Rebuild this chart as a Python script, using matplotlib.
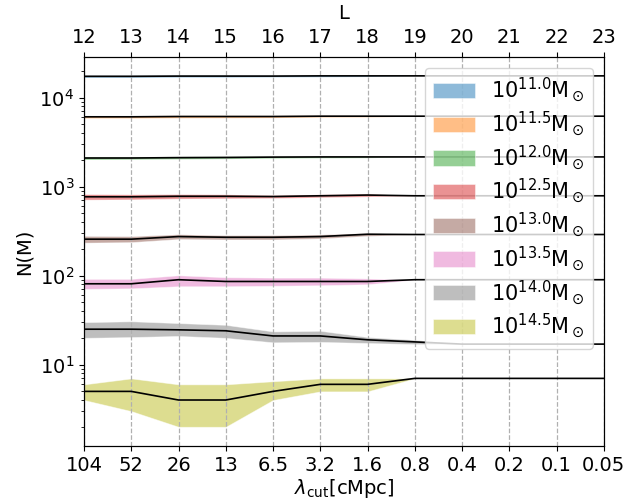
import matplotlib
matplotlib.use("Agg")
import matplotlib.pyplot as plt
import numpy as np

L = [12, 13, 14, 15, 16, 17, 18, 19, 20, 21, 22, 23]
lam_labels = ['104', '52', '26', '13', '6.5', '3.2', '1.6', '0.8', '0.4', '0.2', '0.1', '0.05']

mass_labels = ['11.0', '11.5', '12.0', '12.5', '13.0', '13.5', '14.0', '14.5']

med_110 = [17400, 17400, 17500, 17500, 17500, 17600, 17600, 17600, 17600, 17600, 17600, 17600]
lo_110 = [16900, 16900, 17000, 17000, 17100, 17200, 17300, 17600, 17600, 17600, 17600, 17600]
hi_110 = [17900, 17900, 18000, 18000, 17900, 18000, 17900, 17600, 17600, 17600, 17600, 17600]

med_115 = [6100, 6100, 6150, 6150, 6150, 6200, 6200, 6200, 6200, 6200, 6200, 6200]
lo_115 = [5900, 5900, 5950, 5960, 5980, 6050, 6080, 6200, 6200, 6200, 6200, 6200]
hi_115 = [6300, 6300, 6330, 6330, 6320, 6350, 6320, 6200, 6200, 6200, 6200, 6200]

med_120 = [2100, 2100, 2120, 2130, 2150, 2160, 2160, 2160, 2160, 2160, 2160, 2160]
lo_120 = [2020, 2030, 2050, 2070, 2090, 2110, 2120, 2160, 2160, 2160, 2160, 2160]
hi_120 = [2180, 2180, 2190, 2200, 2210, 2210, 2200, 2160, 2160, 2160, 2160, 2160]

med_125 = [770, 770, 780, 780, 775, 790, 805, 790, 790, 790, 790, 790]
lo_125 = [715, 720, 735, 740, 745, 760, 775, 790, 790, 790, 790, 790]
hi_125 = [825, 820, 825, 820, 805, 820, 835, 790, 790, 790, 790, 790]

med_130 = [257, 257, 275, 270, 270, 275, 292, 290, 290, 290, 290, 290]
lo_130 = [235, 238, 258, 255, 255, 262, 280, 290, 290, 290, 290, 290]
hi_130 = [280, 278, 292, 285, 285, 290, 302, 290, 290, 290, 290, 290]

med_135 = [81, 81, 90, 86, 86, 86, 86, 90, 90, 90, 90, 90]
lo_135 = [71, 72, 76, 76, 77, 78, 80, 90, 90, 90, 90, 90]
hi_135 = [92, 92, 101, 96, 95, 95, 93, 90, 90, 90, 90, 90]

med_140 = [25, 25, 24.6, 24, 21, 21, 19, 18, 17, 17, 17, 17]
lo_140 = [20, 20.4, 21, 20, 17.8, 18, 17.5, 17, 17, 17, 17, 17]
hi_140 = [30, 30.7, 29.3, 28, 23.6, 24, 20.4, 19, 17, 17, 17, 17]

med_145 = [5, 5, 4, 4, 5, 6, 6, 7, 7, 7, 7, 7]
lo_145 = [4, 3, 2, 2, 4, 5, 5, 7, 7, 7, 7, 7]
hi_145 = [6, 7, 6, 6, 6.5, 7, 7, 7, 7, 7, 7, 7]

meds = [med_110, med_115, med_120, med_125, med_130, med_135, med_140, med_145]
los = [lo_110, lo_115, lo_120, lo_125, lo_130, lo_135, lo_140, lo_145]
his = [hi_110, hi_115, hi_120, hi_125, hi_130, hi_135, hi_140, hi_145]
colors = ['tab:blue', 'tab:orange', 'tab:green', 'tab:red',
          'tab:brown', 'tab:pink', 'tab:gray', 'tab:olive']

fig = plt.figure(figsize=(6.27, 5.01), dpi=100)
ax = fig.add_axes([0.134, 0.110, 0.829, 0.776])

for lab, m, lo, hi, c in zip(mass_labels, meds, los, his, colors):
    ax.fill_between(L, lo, hi, color=c, alpha=0.5, lw=0.6,
                    edgecolor=(1, 1, 1, 0.2),
                    label=r'$10^{%s}\rm M_\odot$' % lab)
    ax.plot(L, m, color='black', lw=1.2)

ax.set_yscale('log')
ax.set_ylim(1.22, 28600)
ax.set_xlim(12, 23)
ax.set_xticks(L)
ax.set_xticklabels(lam_labels)
ax.grid(axis='x', ls='--', color='#b0b0b0', lw=0.9)
ax.tick_params(labelsize=14)
ax.set_xlabel(r'$\lambda_{\rm cut}$[cMpc]', fontsize=14, labelpad=2)
ax.set_ylabel('N(M)', fontsize=14)

ax2 = ax.twiny()
ax2.set_xlim(12, 23)
ax2.set_xticks(L)
ax2.set_xticklabels([str(v) for v in L])
ax2.tick_params(labelsize=14)
ax2.set_xlabel('L', fontsize=14, labelpad=7)

ax.legend(loc='upper right', fontsize=15, labelspacing=0.26,
          handlelength=2.0, handleheight=0.75, handletextpad=0.8)

fig.savefig('out.png', dpi=100)
